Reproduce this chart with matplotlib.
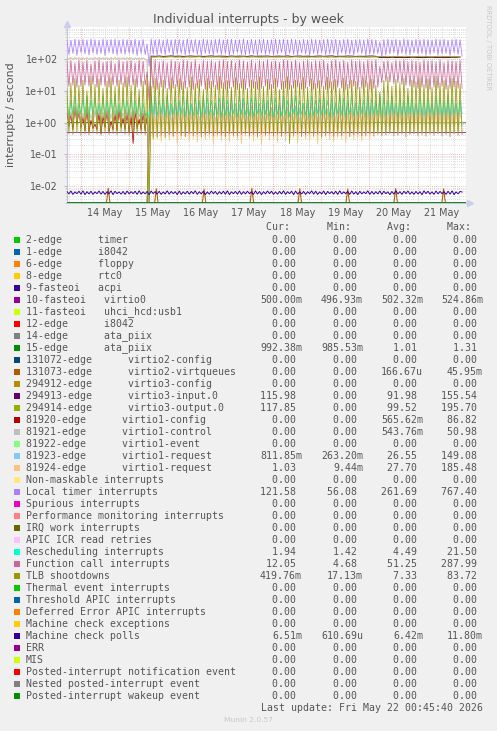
import numpy as np
import matplotlib
matplotlib.use("Agg")
import matplotlib.pyplot as plt
from matplotlib.patches import Rectangle

W, H = 497, 731

# ---- data ----
# time axis in hours since 14 May 00:00; the busy series swing once every
# 2 h, so each one is stored as a high and a low sample per cycle
cycle_hours = np.arange(-6.8, 190.0, 2.0)

local_timer_hi = [410, 395, 425, 405,
                  420, 400, 430, 410, 395, 425, 405, 415, 430, 400, 420, 410,
                  405, 425, 395, 415, 300, 430, 410, 420, 400, 425, 405, 415,
                  420, 400, 430, 405, 415, 395, 425, 410, 400, 420, 430, 405,
                  415, 425, 400, 410, 430, 395, 420, 405, 415, 425, 400, 410,
                  425, 405, 415, 400, 430, 410, 395, 420, 405, 425, 415, 400,
                  410, 430, 405, 420, 395, 415, 425, 400, 410, 420, 405, 430,
                  415, 400, 350, 410, 425, 405, 420, 395, 430, 410, 400, 420,
                  405, 425, 415, 400, 430, 410, 420, 395, 415, 425, 405]
local_timer_lo = [140, 150, 130, 160,
                  145, 135, 155, 140, 150, 130, 160, 145, 135, 150, 140, 155,
                  145, 130, 150, 140, 60, 145, 135, 150, 140, 160, 130, 145,
                  150, 135, 145, 160, 140, 130, 150, 145, 135, 155, 140, 150,
                  130, 145, 160, 140, 135, 150, 145, 130, 155, 140, 150, 135,
                  145, 160, 130, 150, 140, 135, 155, 145, 130, 150, 140, 160,
                  135, 145, 150, 130, 155, 140, 145, 135, 160, 150, 130, 145,
                  140, 150, 120, 135, 145, 160, 130, 150, 140, 135, 155, 145,
                  150, 130, 140, 155, 135, 145, 150, 130, 160, 140, 122]

func_call_hi = [85, 90, 75, 95,
                80, 92, 70, 88, 95, 78, 85, 90, 72, 94, 82, 88,
                90, 76, 93, 85, 40, 88, 95, 80, 90, 75, 92, 85,
                78, 94, 88, 82, 95, 70, 90, 86, 92, 78, 88, 94,
                84, 90, 76, 95, 88, 80, 92, 74, 90, 86, 95, 82,
                88, 78, 94, 90, 84, 92, 76, 88, 95, 80, 90, 86,
                92, 74, 88, 95, 82, 90, 78, 94, 86, 90, 80, 92,
                88, 95, 60, 84, 90, 76, 92, 88, 95, 82, 90, 86,
                78, 94, 88, 90, 82, 95, 76, 90, 88, 84, 92]
func_call_lo = [14, 15, 13, 14,
                15, 14, 16, 13, 15, 14, 13, 15, 14, 16, 13, 14,
                15, 13, 14, 15, 5, 12, 11, 13, 12, 11, 12, 13,
                11, 12, 13, 11, 12, 14, 11, 12, 13, 11, 12, 11,
                12, 13, 11, 12, 11, 13, 12, 11, 12, 14, 11, 12,
                13, 11, 12, 11, 12, 13, 11, 12, 14, 11, 12, 13,
                11, 12, 11, 13, 12, 11, 12, 14, 11, 12, 13, 11,
                12, 13, 18, 20, 19, 17, 18, 16, 15, 14, 13, 12,
                13, 12, 11, 13, 12, 14, 11, 12, 13, 12, 12]

tlb_hi = [12, 18, 25, 15,
          22, 10, 28, 16, 24, 12, 20, 26, 14, 22, 18, 27,
          15, 24, 11, 20, 30, 14, 25, 18, 22, 12, 26, 16,
          24, 19, 13, 27, 17, 23, 11, 25, 20, 15, 28, 18,
          21, 13, 26, 17, 24, 12, 22, 19, 27, 14, 23, 16,
          25, 11, 20, 28, 15, 22, 18, 26, 13, 24, 17, 21,
          14, 27, 19, 23, 12, 25, 16, 22, 20, 13, 26, 18,
          24, 15, 9, 21, 27, 14, 23, 18, 25, 12, 22, 19,
          26, 16, 24, 13, 28, 18, 21, 15, 25, 20, 17]
tlb_lo = [0.45, 0.42, 0.48, 0.40,
          0.44, 0.41, 0.47, 0.43, 0.40, 0.46, 0.42, 0.45, 0.41, 0.48, 0.43, 0.40,
          0.46, 0.42, 0.44, 0.41, 0.0, 0.30, 0.35, 0.40, 0.33, 0.42, 0.38, 0.45,
          0.40, 0.36, 0.44, 0.39, 0.42, 0.35, 0.41, 0.45, 0.38, 0.43, 0.40, 0.36,
          0.44, 0.40, 0.37, 0.42, 0.45, 0.38, 0.41, 0.36, 0.43, 0.40, 0.44, 0.38,
          0.42, 0.37, 0.45, 0.22, 0.40, 0.43, 0.36, 0.41, 0.44, 0.38, 0.42, 0.35,
          0.40, 0.44, 0.37, 0.42, 0.39, 0.45, 0.36, 0.41, 0.43, 0.38, 0.40, 0.44,
          0.37, 0.42, 0.39, 0.41, 0.45, 0.38, 0.40, 0.43, 0.36, 0.42, 0.44, 0.39,
          0.41, 0.37, 0.43, 0.40, 0.45, 0.38, 0.42, 0.36, 0.44, 0.40, 0.42]

resched_hi = [6, 5, 7, 4,
              6, 7, 5, 6, 4, 7, 5, 6, 7, 4, 6, 5,
              7, 5, 6, 4, 2, 6, 7, 5, 6, 7, 4, 6,
              5, 7, 6, 4, 6, 5, 7, 6, 5, 4, 6, 7,
              5, 6, 4, 7, 6, 5, 6, 7, 4, 6, 5, 7,
              6, 4, 7, 5, 6, 7, 5, 4, 6, 7, 5, 6,
              7, 5, 6, 4, 7, 6, 5, 7, 4, 6, 5, 7,
              6, 5, 8, 6, 5, 7, 4, 6, 5, 7, 6, 4,
              7, 5, 6, 4, 7, 6, 5, 7, 6, 4, 5]
resched_lo = [1.6, 1.8, 1.5, 1.9,
              1.7, 1.5, 1.8, 1.6, 1.9, 1.5, 1.7, 1.8, 1.6, 1.5, 1.9, 1.7,
              1.6, 1.8, 1.5, 1.7, 1.42, 1.8, 1.6, 1.9, 1.5, 1.7, 1.8, 1.6,
              1.9, 1.5, 1.7, 1.6, 1.8, 1.5, 1.9, 1.7, 1.6, 1.8, 1.5, 1.7,
              1.6, 1.9, 1.5, 1.8, 1.7, 1.6, 1.5, 1.9, 1.7, 1.8, 1.6, 1.5,
              1.8, 1.6, 1.7, 1.5, 1.9, 1.6, 1.8, 1.7, 1.5, 1.6, 1.9, 1.7,
              1.8, 1.5, 1.6, 1.9, 1.7, 1.5, 1.8, 1.6, 1.7, 1.9, 1.5, 1.6,
              1.8, 1.7, 1.5, 1.6, 1.9, 1.8, 1.5, 1.7, 1.6, 1.9, 1.5, 1.8,
              1.7, 1.6, 1.9, 1.5, 1.8, 1.6, 1.7, 1.5, 1.9, 1.6, 1.94]

# 81923-edge virtio1-request
req1_hi = [108, 112, 105, 110,
           106, 111, 104, 109, 113, 107, 110, 105, 112, 108, 106, 111,
           109, 104, 110, 107, 90, 3.5, 4.2, 2.8, 3.9, 4.5, 3.1, 3.8,
           4.0, 2.9, 4.4, 3.6, 3.2, 4.1, 5.0, 3.4, 2.7, 4.3, 3.7, 4.6,
           3.3, 4.0, 2.9, 3.8, 4.5, 3.1, 3.6, 4.2, 2.8, 3.9, 4.4, 3.0,
           3.7, 4.1, 5.2, 3.2, 4.6, 3.5, 2.9, 4.0, 3.8, 4.3, 3.1, 3.6,
           4.2, 2.8, 3.9, 4.5, 3.3, 3.7, 4.0, 2.9, 4.4, 3.5, 3.1, 4.1,
           3.6, 4.3, 6.0, 3.0, 3.8, 4.2, 2.9, 3.6, 4.5, 3.2, 3.9, 4.0,
           3.4, 2.8, 4.1, 3.7, 4.4, 3.0, 3.6, 4.2, 3.3, 3.9, 3.5]
req1_lo = [100, 98, 102, 97,
           101, 99, 96, 100, 103, 98, 97, 101, 99, 102, 98, 100,
           97, 101, 99, 98, 0.0, 0.6, 0.5, 0.7, 0.55, 0.45, 0.65, 0.6,
           0.5, 0.7, 0.45, 0.6, 0.55, 0.65, 0.5, 0.4, 0.6, 0.7, 0.5, 0.55,
           0.65, 0.45, 0.6, 0.5, 0.7, 0.55, 0.6, 0.45, 0.65, 0.5, 0.6, 0.7,
           0.55, 0.5, 0.263, 0.6, 0.45, 0.65, 0.55, 0.6, 0.5, 0.7, 0.45, 0.6,
           0.55, 0.65, 0.5, 0.6, 0.45, 0.7, 0.55, 0.5, 0.6, 0.65, 0.45, 0.55,
           0.6, 0.5, 0.7, 0.45, 0.6, 0.55, 0.65, 0.5, 0.6, 0.45, 0.7, 0.55,
           0.5, 0.6, 0.65, 0.45, 0.55, 0.7, 0.5, 0.6, 0.45, 0.65, 0.81]

# 81924-edge virtio1-request
req2_hi = [110, 106, 113, 108,
           111, 107, 109, 112, 105, 110, 108, 113, 106, 109, 111, 107,
           110, 112, 106, 109, 95, 2.0, 1.6, 2.4, 1.8, 2.2, 1.5, 2.1,
           1.9, 2.3, 1.7, 2.0, 2.5, 1.6, 2.2, 1.8, 2.1, 1.5, 2.4, 1.9,
           2.0, 1.7, 2.3, 1.8, 2.2, 1.6, 2.5, 1.9, 2.1, 1.7, 2.0, 2.4,
           1.8, 2.2, 1.6, 2.3, 1.9, 2.1, 1.5, 2.4, 1.8, 2.0, 2.2, 1.7,
           2.3, 1.9, 2.1, 1.6, 2.4, 1.8, 2.0, 2.2, 1.7, 2.5, 1.9, 2.1,
           1.8, 2.3, 3.0, 2.0, 1.6, 2.2, 1.9, 2.4, 1.7, 2.1, 2.0, 1.8,
           2.3, 1.6, 2.2, 1.9, 2.5, 1.8, 2.0, 2.1, 1.7, 2.3, 1.9]
req2_lo = [103, 101, 104, 100,
           102, 99, 104, 101, 98, 103, 100, 102, 99, 101, 104, 100,
           102, 99, 103, 101, 0.00944, 0.35, 0.30, 0.25, 0.40, 0.28, 0.33, 0.22,
           0.30, 0.36, 0.26, 0.31, 0.24, 0.38, 0.29, 0.33, 0.21, 0.35, 0.27, 0.30,
           0.25, 0.34, 0.29, 0.22, 0.37, 0.31, 0.26, 0.33, 0.20, 0.35, 0.28, 0.30,
           0.24, 0.36, 0.29, 0.27, 0.33, 0.22, 0.38, 0.30, 0.26, 0.34, 0.21, 0.31,
           0.36, 0.28, 0.25, 0.33, 0.30, 0.23, 0.37, 0.29, 0.32, 0.26, 0.35, 0.30,
           0.45, 0.48, 0.40, 0.50, 0.46, 0.52, 0.44, 0.49, 0.47, 0.51, 0.45, 0.50,
           0.48, 0.53, 0.46, 0.50, 0.44, 0.49, 0.52, 0.47, 0.45, 0.50, 1.03]

# virtio3 queues: one sample per cycle, idle until the reboot on 15 May
virtio3_in = [0, 0, 0, 0,
              0, 0, 0, 0, 0, 0, 0, 0, 0, 0, 0, 0,
              0, 0, 0, 0, 0, 124, 122, 125, 121, 123, 126, 122,
              124, 121, 123, 125, 122, 124, 121, 123, 126, 122, 124, 123,
              121, 125, 122, 124, 123, 121, 126, 122, 124, 123, 125, 121,
              123, 124, 122, 126, 121, 123, 125, 122, 124, 121, 123, 125,
              122, 124, 126, 121, 123, 122, 125, 124, 121, 123, 122, 124,
              125, 122, 112, 113, 111, 114, 112, 113, 111, 112, 114, 113,
              112, 111, 113, 114, 112, 113, 111, 112, 114, 113, 115.98]
virtio3_out = [0, 0, 0, 0,
               0, 0, 0, 0, 0, 0, 0, 0, 0, 0, 0, 0,
               0, 0, 0, 0, 0, 116, 115, 117, 114, 116, 118, 115,
               116, 114, 117, 115, 116, 118, 114, 116, 115, 117, 116, 114,
               115, 117, 116, 114, 118, 115, 116, 117, 114, 116, 115, 117,
               116, 115, 117, 114, 116, 118, 115, 116, 114, 117, 115, 116,
               118, 114, 116, 115, 117, 116, 114, 115, 117, 116, 115, 114,
               116, 117, 121, 120, 122, 119, 121, 120, 122, 121, 119, 120,
               122, 121, 120, 119, 121, 122, 120, 121, 119, 120, 117.85]

mc_polls_hi = [0.0068, 0.0070, 0.0066, 0.0069,
               0.0071, 0.0067, 0.0069, 0.0066, 0.0070, 0.0068, 0.0067, 0.0071, 0.0069, 0.0066, 0.0068, 0.0070,
               0.0067, 0.0069, 0.0071, 0.0066, 0.0068, 0.0070, 0.0067, 0.0069, 0.0066, 0.0071, 0.0068, 0.0067,
               0.0070, 0.0066, 0.0069, 0.0068, 0.0071, 0.0067, 0.0069, 0.0066, 0.0070, 0.0068, 0.0067, 0.0069,
               0.0071, 0.0066, 0.0068, 0.0070, 0.0067, 0.0069, 0.0066, 0.0071, 0.0068, 0.0067, 0.0070, 0.0069,
               0.0066, 0.0068, 0.0071, 0.0067, 0.0069, 0.0070, 0.0066, 0.0068, 0.0067, 0.0071, 0.0069, 0.0066,
               0.0070, 0.0068, 0.0067, 0.0069, 0.0071, 0.0066, 0.0068, 0.0070, 0.0067, 0.0069, 0.0066, 0.0071,
               0.0068, 0.0067, 0.0070, 0.0069, 0.0066, 0.0068, 0.0071, 0.0067, 0.0069, 0.0070, 0.0066, 0.0068,
               0.0067, 0.0071, 0.0069, 0.0066, 0.0070, 0.0068, 0.0067, 0.0069, 0.0071, 0.0066, 0.0068]
mc_polls_lo = [0.0057, 0.0055, 0.0058, 0.0056,
               0.0054, 0.0057, 0.0055, 0.0058, 0.0056, 0.0055, 0.0057, 0.0054, 0.0058, 0.0056, 0.0055, 0.0057,
               0.0058, 0.0055, 0.0056, 0.0057, 0.0054, 0.0058, 0.0056, 0.0055, 0.0057, 0.0056, 0.0058, 0.0054,
               0.0055, 0.0057, 0.0056, 0.0058, 0.0055, 0.0057, 0.0054, 0.0056, 0.0058, 0.0055, 0.0057, 0.0056,
               0.0054, 0.0058, 0.0056, 0.0055, 0.0057, 0.0058, 0.0055, 0.0056, 0.0054, 0.0057, 0.0058, 0.0055,
               0.0056, 0.0057, 0.0055, 0.0058, 0.0054, 0.0056, 0.0057, 0.0055, 0.0058, 0.0056, 0.0055, 0.0057,
               0.0054, 0.0058, 0.0056, 0.0055, 0.0057, 0.0058, 0.0055, 0.0056, 0.0054, 0.0057, 0.0058, 0.0055,
               0.0056, 0.0057, 0.0055, 0.0058, 0.0054, 0.0056, 0.0057, 0.0055, 0.0058, 0.0056, 0.0055, 0.0057,
               0.0054, 0.0058, 0.0056, 0.0055, 0.0057, 0.0058, 0.0055, 0.0056, 0.0054, 0.0057, 0.00651]

# virtio1-config / virtio1-control, only busy before the reboot
cfg_hi = [2.5, 1.8, 3.0, 2.2, 1.5, 2.8, 1.2, 0.9, 2.0, 1.6, 2.4, 1.1,
          1.9, 2.6, 1.4, 2.1, 1.7, 2.3, 1.3, 2.0, 2.0]
cfg_lo = [0.8, 0.6, 0.9, 0.7, 0.55, 0.5, 0.65, 0.6, 0.45, 0.7, 0.5, 0.6,
          0.55, 0.7, 0.6, 0.5, 0.22, 0.65, 0.6, 0.55, 0.0]
ctl_hi = [3.0, 2.2, 3.5, 2.6, 2.0, 3.2, 1.8, 2.4, 3.0, 2.1, 2.8, 1.9,
          2.5, 3.3, 2.0, 2.7, 2.2, 3.1, 1.9, 2.6, 2.4]
ctl_lo = [1.0, 0.9, 1.1, 0.8, 0.9, 1.0, 0.8, 1.1, 0.9, 1.0, 0.8, 0.9,
          1.1, 1.0, 0.9, 0.8, 1.0, 0.9, 1.1, 0.8, 0.0]

# flat series, one sample every 12 h
flat_hours = [-6.9, 6, 18, 30, 42, 54, 66, 78, 90, 102, 114, 126, 138, 150, 162, 174, 192]
virtio0_vals = [0.50, 0.50, 0.50, 0.50, 0.50, 0.50, 0.50, 0.50, 0.50,
                0.50, 0.50, 0.50, 0.50, 0.50, 0.50, 0.50, 0.50]
ata15_vals = [1.01, 1.00, 1.01, 1.00, 1.02, 1.01, 1.00, 1.01, 1.00,
              1.01, 1.02, 1.00, 1.01, 1.00, 1.01, 0.99, 0.99]

# virtio2-virtqueues: short daily bursts
virtq_hours = [13.8, 37.8, 61.6, 85.4, 109.3, 133.2, 157.1, 181.0]
virtq_vals = [0.0085, 0.0082, 0.0080, 0.0086, 0.0083, 0.0081, 0.0084, 0.0082]

day_labels = ["14 May", "15 May", "16 May", "17 May", "18 May", "19 May", "20 May", "21 May"]

# ---- legend table ----
legend_names = [
    "2-edge      timer", "1-edge      i8042", "6-edge      floppy", "8-edge      rtc0",
    "9-fasteoi   acpi", "10-fasteoi   virtio0", "11-fasteoi   uhci_hcd:usb1",
    "12-edge      i8042", "14-edge      ata_piix", "15-edge      ata_piix",
    "131072-edge      virtio2-config", "131073-edge      virtio2-virtqueues",
    "294912-edge      virtio3-config", "294913-edge      virtio3-input.0",
    "294914-edge      virtio3-output.0", "81920-edge      virtio1-config",
    "81921-edge      virtio1-control", "81922-edge      virtio1-event",
    "81923-edge      virtio1-request", "81924-edge      virtio1-request",
    "Non-maskable interrupts", "Local timer interrupts", "Spurious interrupts",
    "Performance monitoring interrupts", "IRQ work interrupts", "APIC ICR read retries",
    "Rescheduling interrupts", "Function call interrupts", "TLB shootdowns",
    "Thermal event interrupts", "Threshold APIC interrupts", "Deferred Error APIC interrupts",
    "Machine check exceptions", "Machine check polls", "ERR", "MIS",
    "Posted-interrupt notification event", "Nested posted-interrupt event",
    "Posted-interrupt wakeup event"]
legend_colors = [
    "#00CC00", "#0066B3", "#FF8000", "#FFCC00", "#330099", "#990099", "#CCFF00",
    "#FF0000", "#808080", "#008F00", "#00487D", "#B35A00", "#B38F00", "#6B006B",
    "#8FB300", "#B30000", "#BEBEBE", "#80FF80", "#80C9FF", "#FFC080", "#FFE680",
    "#AA80FF", "#EE00CC", "#FF8080", "#666600", "#FFBFFF", "#00FFCC", "#CC6699",
    "#999900", "#00CC00", "#0066B3", "#FF8000", "#FFCC00", "#330099", "#990099",
    "#CCFF00", "#FF0000", "#808080", "#008F00"]
z = "0.00"
stat_cur = [z, z, z, z, z, "500.00m", z, z, z, "992.38m", z, z, z, "115.98", "117.85",
            z, z, z, "811.85m", "1.03", z, "121.58", z, z, z, z, "1.94", "12.05",
            "419.76m", z, z, z, z, "6.51m", z, z, z, z, z]
stat_min = [z, z, z, z, z, "496.93m", z, z, z, "985.53m", z, z, z, z, z,
            z, z, z, "263.20m", "9.44m", z, "56.08", z, z, z, z, "1.42", "4.68",
            "17.13m", z, z, z, z, "610.69u", z, z, z, z, z]
stat_avg = [z, z, z, z, z, "502.32m", z, z, z, "1.01", z, "166.67u", z, "91.98", "99.52",
            "565.62m", "543.76m", z, "26.55", "27.70", z, "261.69", z, z, z, z, "4.49", "51.25",
            "7.33", z, z, z, z, "6.42m", z, z, z, z, z]
stat_max = [z, z, z, z, z, "524.86m", z, z, z, "1.31", z, "45.95m", z, "155.54", "195.70",
            "86.82", "50.98", z, "149.08", "185.48", z, "767.40", z, z, z, z, "21.50", "287.99",
            "83.72", z, z, z, z, "11.80m", z, z, z, z, z]

# ---- figure ----
YMIN, YMAX = 0.00288, 1000
fig = plt.figure(figsize=(W / 100, H / 100), dpi=100, facecolor="#F0F0F0")


def fx(x):
    return x / W


def fy(y):
    return 1 - y / H


ax = fig.add_axes([fx(66.7), fy(203.3), (465.7 - 66.7) / W, (203.3 - 27.3) / H])
ax.set_facecolor("white")
ax.set_yscale("log")
ax.set_ylim(YMIN, YMAX)
ax.set_xlim(-6.9, 192.0)

# grid like rrdtool: grey dotted minor lines, reddish dotted major lines
for d in range(-3, 3):
    for m in range(2, 10):
        v = m * 10.0 ** d
        if YMIN < v < YMAX:
            ax.axhline(v, color="#D2D2D2", lw=0.6, ls=(0, (1, 1.5)), zorder=0)
    if YMIN < 10.0 ** d < YMAX:
        ax.axhline(10.0 ** d, color="#F2A0A0", lw=0.6, ls=(0, (1, 1.5)), zorder=0)
for hh in range(-6, 193, 6):
    if hh % 24 == 0:
        ax.axvline(hh, color="#F2A0A0", lw=0.6, ls=(0, (1, 1.5)), zorder=0)
    else:
        ax.axvline(hh, color="#D2D2D2", lw=0.6, ls=(0, (1, 1.5)), zorder=0)


def zigzag(hi, lo, hours=cycle_hours):
    n = len(hi)
    xs = np.empty(2 * n)
    ys = np.empty(2 * n)
    xs[0::2] = hours[:n]
    xs[1::2] = hours[:n] + 1.0
    ys[0::2] = hi
    ys[1::2] = lo
    return xs, np.clip(ys, YMIN, None)


LW = 0.55
zero_x = [-6.9, 192.0]
zero_y = [YMIN, YMIN]

# draw in legend order, later series on top
for i, name in enumerate(legend_names):
    c = legend_colors[i]
    kw = dict(color=c, lw=LW, zorder=i + 1)
    if name.startswith("10-fasteoi"):
        ax.plot(flat_hours, virtio0_vals, **kw)
    elif name.startswith("15-edge"):
        ax.plot(flat_hours, ata15_vals, **kw)
    elif name.startswith("131073"):
        xs, ys = [-6.9], [0.0]
        for t, v in zip(virtq_hours, virtq_vals):
            xs += [t - 0.9, t, t + 0.9]
            ys += [0.0, v, 0.0]
        xs.append(192.0)
        ys.append(0.0)
        ax.plot(xs, np.clip(ys, YMIN, None), color=c, lw=0.75, zorder=i + 1)
    elif name.startswith("294913"):
        ax.plot(cycle_hours, np.clip(virtio3_in, YMIN, None), color=c, lw=0.7, zorder=i + 1)
    elif name.startswith("294914"):
        ax.plot(cycle_hours, np.clip(virtio3_out, YMIN, None), color=c, lw=0.7, zorder=i + 1)
    elif name.startswith("81920"):
        ax.plot(*zigzag(cfg_hi, cfg_lo), **kw)
    elif name.startswith("81921"):
        ax.plot(*zigzag(ctl_hi, ctl_lo), **kw)
    elif name.startswith("81923"):
        ax.plot(*zigzag(req1_hi, req1_lo), **kw)
    elif name.startswith("81924"):
        ax.plot(*zigzag(req2_hi, req2_lo), **kw)
    elif name == "Local timer interrupts":
        ax.plot(*zigzag(local_timer_hi, local_timer_lo), **kw)
    elif name == "Rescheduling interrupts":
        ax.plot(*zigzag(resched_hi, resched_lo), **kw)
    elif name == "Function call interrupts":
        ax.plot(*zigzag(func_call_hi, func_call_lo), **kw)
    elif name == "TLB shootdowns":
        ax.plot(*zigzag(tlb_hi, tlb_lo), **kw)
    elif name == "Machine check polls":
        ax.plot(*zigzag(mc_polls_hi, mc_polls_lo), color=c, lw=0.7, zorder=i + 1)
    else:
        ax.plot(zero_x, zero_y, color=c, lw=1.2, zorder=i + 1)

# axes styling
for s in ["top", "right"]:
    ax.spines[s].set_visible(False)
for s in ["left", "bottom"]:
    ax.spines[s].set_color("#C4C4DC")
    ax.spines[s].set_linewidth(0.8)
    ax.spines[s].set_zorder(0.5)

yt = [1e-2, 1e-1, 1e0, 1e1, 1e2]
ax.set_yticks(yt)
ax.set_yticklabels([f"{v:.0e}" for v in yt])
ax.yaxis.set_minor_formatter(plt.NullFormatter())
ax.tick_params(axis="y", which="major", length=2, color="#BBBBBB", labelsize=6.9,
               labelcolor="#555555", pad=4.5)
ax.tick_params(axis="y", which="minor", length=1.2, color="#CCCCCC")
ax.set_xticks([12 + 24 * k for k in range(len(day_labels))])
ax.set_xticklabels(day_labels)
ax.tick_params(axis="x", length=0, labelsize=6.9, labelcolor="#555555", pad=3.5)

# axis arrows
ax.plot([0], [1.02], marker="^", ms=4, color="#CCCCEE", transform=ax.transAxes,
        clip_on=False, zorder=60)
ax.plot([1.012], [0], marker=">", ms=4, color="#CCCCEE", transform=ax.transAxes,
        clip_on=False, zorder=60)

# titles
fig.text(0.5, fy(19), "Individual interrupts - by week", ha="center", va="center",
         fontsize=9, color="#555555")
fig.text(fx(11), fy(115), "interrupts / second", rotation=90, ha="center", va="center",
         fontsize=7.9, color="#555555")
fig.text(fx(488), fy(5), "RRDTOOL / TOBI OETIKER", rotation=270, ha="center", va="top",
         fontsize=4.8, color="#C8C8C8")

# legend table
mono = dict(family="DejaVu Sans Mono", fontsize=7.1, color="#555555")


def pad(s):
    return s if s[-1].isalpha() else s + " "


for hdr, xr in zip(["Cur:", "Min:", "Avg:", "Max:"], [302, 363, 423, 483]):
    fig.text(fx(xr), fy(227.3), hdr + "  ", ha="right", va="center", **mono)

for i, name in enumerate(legend_names):
    yy = 239.7 + 12.0 * i
    fig.patches.append(Rectangle((fx(14), fy(yy + 3)), 6 / W, 6 / H,
                                 transform=fig.transFigure, facecolor=legend_colors[i],
                                 edgecolor="none"))
    fig.text(fx(26), fy(yy), name, ha="left", va="center", **mono)
    for vals, xr in zip([stat_cur, stat_min, stat_avg, stat_max], [302, 363, 423, 483]):
        fig.text(fx(xr), fy(yy), pad(vals[i]), ha="right", va="center", **mono)

fig.text(fx(483), fy(707.7), "Last update: Fri May 22 00:45:40 2026", ha="right",
         va="center", **mono)
fig.text(fx(248), fy(720), "Munin 2.0.57", ha="center", va="center", fontsize=5.4,
         color="#C8C8C8")

fig.savefig("out.png", dpi=100, facecolor=fig.get_facecolor())
